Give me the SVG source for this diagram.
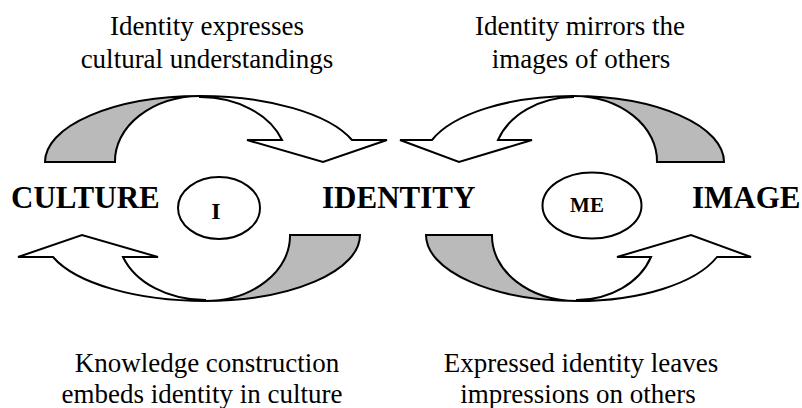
<svg xmlns="http://www.w3.org/2000/svg" width="802" height="408" viewBox="0 0 802 408">
<style>
.sh{fill:#bababa;stroke:#000;stroke-width:2;stroke-linejoin:miter}
.wh{fill:#fff;stroke:#000;stroke-width:2;stroke-linejoin:miter}
.cap{font-family:"Liberation Serif","Times New Roman",serif;font-size:27px;fill:#000;text-anchor:middle}
.big{font-family:"Liberation Serif","Times New Roman",serif;font-size:31px;font-weight:bold;fill:#000}
.sm{font-family:"Liberation Serif","Times New Roman",serif;font-weight:bold;fill:#000;text-anchor:middle}
.el{fill:#fff;stroke:#000;stroke-width:2}
</style>
<rect width="802" height="408" fill="#fff"/>
<g id="connectors">
  <g id="arrow-culture-identity">
    <path class="sh" d="M45,162 A155,66 0 0 1 200,96 A86,65 0 0 0 115,162 Z"/>
    <path class="wh" d="M200,96 A161,66 0 0 1 352,140 L387,140 L323,162 L247,140 L282,140 A87,65 0 0 0 200,97 Z"/>
  </g>
  <g id="arrow-image-identity">
    <path class="sh" d="M724,162 A151,66 0 0 0 573,96 A84,65 0 0 1 657,162 Z"/>
    <path class="wh" d="M573,96 A150,66 0 0 0 432,140 L400,140 L459,162 L532,140 L498,140 A81,65 0 0 1 573,97 Z"/>
  </g>
  <g id="arrow-identity-culture">
    <path class="sh" d="M360,235 A155,66 0 0 1 205,301 A85,65 0 0 0 290,235 Z"/>
    <path class="wh" d="M205,301 A161,66 0 0 1 53,257 L18,257 L82,235 L158,257 L123,257 A87,65 0 0 0 205,300 Z"/>
  </g>
  <g id="arrow-identity-image">
    <path class="sh" d="M426,235 A151,66 0 0 0 577,301 A85,65 0 0 1 492,235 Z"/>
    <path class="wh" d="M577,301 A148,66 0 0 0 717,257 L751,257 L691,235 L617,257 L651,257 A79,65 0 0 1 577,300 Z"/>
  </g>
</g>
<g id="label-top-left">
  <text class="cap" x="207" y="35">Identity expresses</text>
  <text class="cap" x="207" y="68">cultural understandings</text>
</g>
<g id="label-top-right">
  <text class="cap" x="580" y="35">Identity mirrors the</text>
  <text class="cap" x="581" y="68">images of others</text>
</g>
<g id="label-bottom-left">
  <text class="cap" x="207" y="372">Knowledge construction</text>
  <text class="cap" x="202" y="403">embeds identity in culture</text>
</g>
<g id="label-bottom-right">
  <text class="cap" x="581" y="372">Expressed identity leaves</text>
  <text class="cap" x="578" y="403">impressions on others</text>
</g>
<g id="node-culture"><text class="big" x="11" y="208">CULTURE</text></g>
<g id="node-identity"><text class="big" x="322" y="208">IDENTITY</text></g>
<g id="node-image"><text class="big" x="692" y="208">IMAGE</text></g>
<g id="node-i">
  <ellipse class="el" cx="219" cy="208" rx="41" ry="31"/>
  <text class="sm" x="216" y="219" font-size="24">I</text>
</g>
<g id="node-me">
  <ellipse class="el" cx="592" cy="205.5" rx="49.5" ry="33"/>
  <text class="sm" x="587" y="212" font-size="21">ME</text>
</g>
</svg>
